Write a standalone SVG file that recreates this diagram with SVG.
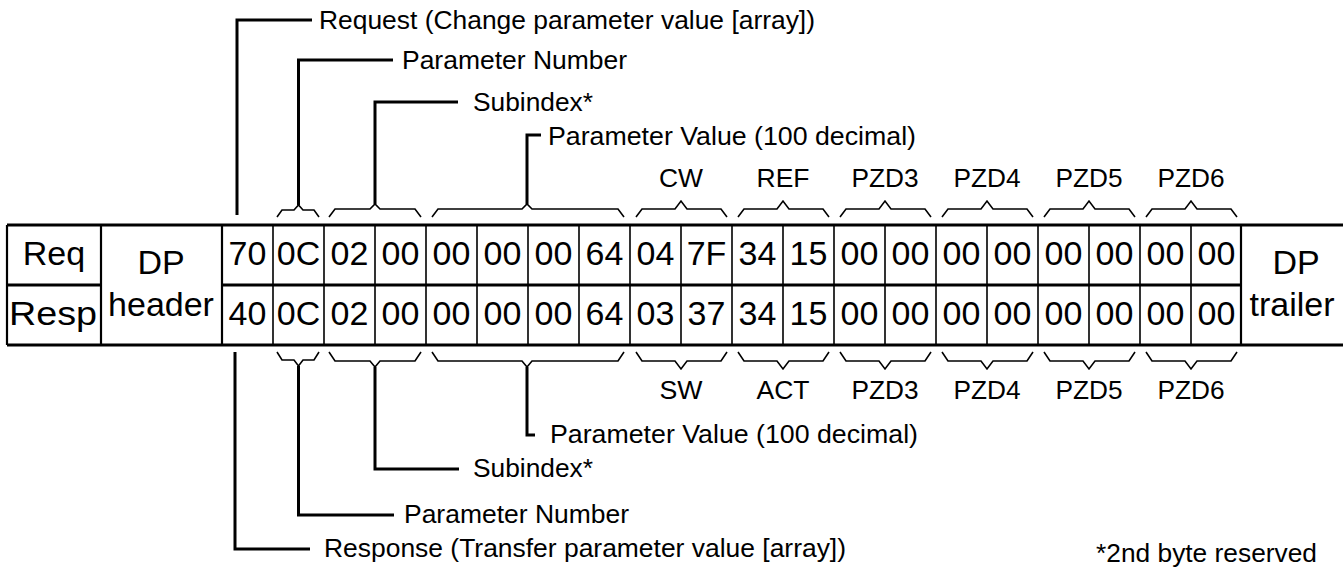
<svg xmlns="http://www.w3.org/2000/svg" width="1343" height="568" viewBox="0 0 1343 568">
<style>
  .bg{fill:#ffffff}
  .hl{stroke:#000;stroke-width:3;fill:none}
  .vl{stroke:#000;stroke-width:2.2;fill:none}
  .vb{stroke:#000;stroke-width:1.6;fill:none}
  .br{stroke:#000;stroke-width:1.6;fill:none;stroke-linejoin:miter}
  .cn{stroke:#000;stroke-width:3;fill:none}
  .cell{font-family:"Liberation Sans",Arial,sans-serif;font-size:34px;fill:#000;text-anchor:middle}
  .lbl{font-family:"Liberation Sans",Arial,sans-serif;font-size:25px;fill:#000}
  .mid{text-anchor:middle}
</style>
<rect class="bg" x="0" y="0" width="1343" height="568"/>

<g id="table">
  <path class="hl" d="M7,225 H1343 M7,345 H1343 M7,285 H101 M222,285 H1241"/>
  <path class="vl" d="M7,225 V345 M101,225 V345 M222,225 V345 M1241,225 V345"/>
  <path class="vb" d="M273,225 V345 M324,225 V345 M375,225 V345 M426,225 V345 M477,225 V345 M528,225 V345 M579,225 V345 M630,225 V345 M681,225 V345 M732,225 V345 M783,225 V345 M834,225 V345 M885,225 V345 M936,225 V345 M987,225 V345 M1038,225 V345 M1089,225 V345 M1140,225 V345 M1191,225 V345"/>
</g>

<g id="row-labels">
  <text class="cell" x="54" y="265">Req</text>
  <text class="cell" x="53" y="325" textLength="88" lengthAdjust="spacingAndGlyphs">Resp</text>
  <text class="cell" x="161" y="274">DP</text>
  <text class="cell" x="161" y="316">header</text>
  <text class="cell" x="1296" y="274">DP</text>
  <text class="cell" x="1292" y="316">trailer</text>
</g>

<g id="request-row">
  <text class="cell" x="247.5" y="265">70</text>
  <text class="cell" x="298.5" y="265">0C</text>
  <text class="cell" x="349.5" y="265">02</text>
  <text class="cell" x="400.5" y="265">00</text>
  <text class="cell" x="451.5" y="265">00</text>
  <text class="cell" x="502.5" y="265">00</text>
  <text class="cell" x="553.5" y="265">00</text>
  <text class="cell" x="604.5" y="265">64</text>
  <text class="cell" x="655.5" y="265">04</text>
  <text class="cell" x="706.5" y="265">7F</text>
  <text class="cell" x="757.5" y="265">34</text>
  <text class="cell" x="808.5" y="265">15</text>
  <text class="cell" x="859.5" y="265">00</text>
  <text class="cell" x="910.5" y="265">00</text>
  <text class="cell" x="961.5" y="265">00</text>
  <text class="cell" x="1012.5" y="265">00</text>
  <text class="cell" x="1063.5" y="265">00</text>
  <text class="cell" x="1114.5" y="265">00</text>
  <text class="cell" x="1165.5" y="265">00</text>
  <text class="cell" x="1216.5" y="265">00</text>
</g>

<g id="response-row">
  <text class="cell" x="247.5" y="325">40</text>
  <text class="cell" x="298.5" y="325">0C</text>
  <text class="cell" x="349.5" y="325">02</text>
  <text class="cell" x="400.5" y="325">00</text>
  <text class="cell" x="451.5" y="325">00</text>
  <text class="cell" x="502.5" y="325">00</text>
  <text class="cell" x="553.5" y="325">00</text>
  <text class="cell" x="604.5" y="325">64</text>
  <text class="cell" x="655.5" y="325">03</text>
  <text class="cell" x="706.5" y="325">37</text>
  <text class="cell" x="757.5" y="325">34</text>
  <text class="cell" x="808.5" y="325">15</text>
  <text class="cell" x="859.5" y="325">00</text>
  <text class="cell" x="910.5" y="325">00</text>
  <text class="cell" x="961.5" y="325">00</text>
  <text class="cell" x="1012.5" y="325">00</text>
  <text class="cell" x="1063.5" y="325">00</text>
  <text class="cell" x="1114.5" y="325">00</text>
  <text class="cell" x="1165.5" y="325">00</text>
  <text class="cell" x="1216.5" y="325">00</text>
</g>

<g id="braces-top">
  <path class="br" d="M277,217 L282,210 L294,210 L298.5,205 L303,210 L314,210 L319,217"/>
  <path class="br" d="M329,217 L335,209 L370,209 L375,204 L380,209 L415,209 L421,217"/>
  <path class="br" d="M432,217 L438,209 L522,209 L527,204 L532,209 L618,209 L624,217"/>
  <path class="br" d="M636,217 L642,209 L675,209 L681,201 L687,209 L721,209 L727,217"/>
  <path class="br" d="M738,217 L744,209 L777,209 L783,201 L789,209 L823,209 L829,217"/>
  <path class="br" d="M840,217 L846,209 L879,209 L885,201 L891,209 L925,209 L931,217"/>
  <path class="br" d="M942,217 L948,209 L981,209 L987,201 L993,209 L1027,209 L1033,217"/>
  <path class="br" d="M1044,217 L1050,209 L1083,209 L1089,201 L1095,209 L1129,209 L1135,217"/>
  <path class="br" d="M1146,217 L1152,209 L1185,209 L1191,201 L1197,209 L1231,209 L1237,217"/>
</g>

<g id="braces-bottom">
  <path class="br" d="M277,352 L282,360 L294,360 L298.5,366 L303,360 L314,360 L319,352"/>
  <path class="br" d="M329,352 L335,361 L370,361 L375,367 L380,361 L415,361 L421,352"/>
  <path class="br" d="M432,352 L438,361 L522,361 L527,367 L532,361 L618,361 L624,352"/>
  <path class="br" d="M636,352 L642,361 L675,361 L681,369 L687,361 L721,361 L727,352"/>
  <path class="br" d="M738,352 L744,361 L777,361 L783,369 L789,361 L823,361 L829,352"/>
  <path class="br" d="M840,352 L846,361 L879,361 L885,369 L891,361 L925,361 L931,352"/>
  <path class="br" d="M942,352 L948,361 L981,361 L987,369 L993,361 L1027,361 L1033,352"/>
  <path class="br" d="M1044,352 L1050,361 L1083,361 L1089,369 L1095,361 L1129,361 L1135,352"/>
  <path class="br" d="M1146,352 L1152,361 L1185,361 L1191,369 L1197,361 L1231,361 L1237,352"/>
</g>

<g id="connectors">
  <path class="cn" d="M237,215 V20 H312"/>
  <path class="cn" d="M298.5,205 V60 H393"/>
  <path class="cn" d="M375,204 V102 H458"/>
  <path class="cn" d="M527,204 V135 H541"/>
  <path class="cn" d="M235,352 V549 H310"/>
  <path class="cn" d="M298.5,366 V515 H394"/>
  <path class="cn" d="M375,367 V469 H459"/>
  <path class="cn" d="M527,367 V435 H535"/>
</g>

<g id="label-request"><text class="lbl" x="319" y="29" textLength="496" lengthAdjust="spacingAndGlyphs">Request (Change parameter value [array])</text></g>
<g id="label-param-number-req"><text class="lbl" x="402" y="69" textLength="225" lengthAdjust="spacingAndGlyphs">Parameter Number</text></g>
<g id="label-subindex-req"><text class="lbl" x="473" y="111" textLength="120" lengthAdjust="spacingAndGlyphs">Subindex*</text></g>
<g id="label-param-value-req"><text class="lbl" x="548" y="145" textLength="368" lengthAdjust="spacingAndGlyphs">Parameter Value (100 decimal)</text></g>

<g id="labels-top-words">
  <text class="lbl mid" x="681" y="187" textLength="44" lengthAdjust="spacingAndGlyphs">CW</text>
  <text class="lbl mid" x="783" y="187" textLength="53" lengthAdjust="spacingAndGlyphs">REF</text>
  <text class="lbl mid" x="885" y="187" textLength="67" lengthAdjust="spacingAndGlyphs">PZD3</text>
  <text class="lbl mid" x="987" y="187" textLength="67" lengthAdjust="spacingAndGlyphs">PZD4</text>
  <text class="lbl mid" x="1089" y="187" textLength="67" lengthAdjust="spacingAndGlyphs">PZD5</text>
  <text class="lbl mid" x="1191" y="187" textLength="67" lengthAdjust="spacingAndGlyphs">PZD6</text>
</g>

<g id="labels-bottom-words">
  <text class="lbl mid" x="681" y="399" textLength="43" lengthAdjust="spacingAndGlyphs">SW</text>
  <text class="lbl mid" x="783" y="399" textLength="53" lengthAdjust="spacingAndGlyphs">ACT</text>
  <text class="lbl mid" x="885" y="399" textLength="67" lengthAdjust="spacingAndGlyphs">PZD3</text>
  <text class="lbl mid" x="987" y="399" textLength="67" lengthAdjust="spacingAndGlyphs">PZD4</text>
  <text class="lbl mid" x="1089" y="399" textLength="67" lengthAdjust="spacingAndGlyphs">PZD5</text>
  <text class="lbl mid" x="1191" y="399" textLength="67" lengthAdjust="spacingAndGlyphs">PZD6</text>
</g>

<g id="label-param-value-resp"><text class="lbl" x="550" y="443" textLength="368" lengthAdjust="spacingAndGlyphs">Parameter Value (100 decimal)</text></g>
<g id="label-subindex-resp"><text class="lbl" x="473" y="477" textLength="120" lengthAdjust="spacingAndGlyphs">Subindex*</text></g>
<g id="label-param-number-resp"><text class="lbl" x="404" y="523" textLength="225" lengthAdjust="spacingAndGlyphs">Parameter Number</text></g>
<g id="label-response"><text class="lbl" x="324" y="557" textLength="522" lengthAdjust="spacingAndGlyphs">Response (Transfer parameter value [array])</text></g>
<g id="label-footnote"><text class="lbl" x="1096" y="562" textLength="221" lengthAdjust="spacingAndGlyphs">*2nd byte reserved</text></g>
</svg>
